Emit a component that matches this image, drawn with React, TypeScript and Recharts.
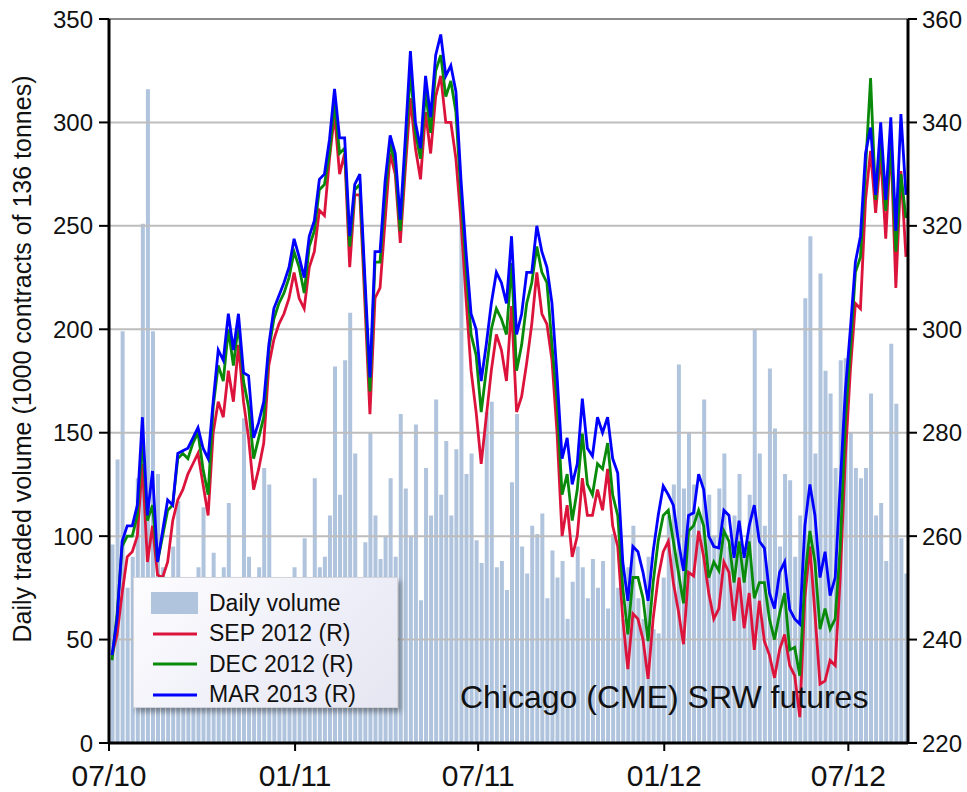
import { Bar, ComposedChart, Legend, Line, ReferenceLine, XAxis, YAxis } from 'recharts'

// sampling grid: days after 1 Jul 2010
const START_DAY = 3
const STEP_DAYS = 5

const volume = [
  96, 137, 199, 75, 90, 128, 251, 316, 199, 130,
  85, 70, 95, 117, 80, 75, 70, 85, 114, 60,
  92, 70, 85, 116, 65, 80, 157, 90, 70, 85,
  133, 125, 75, 65, 80, 70, 85, 60, 99, 75,
  128, 85, 90, 110, 182, 120, 185, 208, 140, 80,
  97, 150, 110, 89, 100, 128, 90, 159, 123, 100,
  154, 69, 133, 110, 166, 120, 146, 110, 142, 260,
  130, 140, 98, 87, 160, 165, 85, 88, 74, 126,
  159, 95, 82, 105, 101, 111, 70, 93, 80, 88,
  60, 78, 95, 85, 70, 89, 75, 88, 65, 101,
  75, 60, 85, 105, 70, 60, 90, 55, 53, 80,
  110, 125, 183, 123, 150, 125, 110, 166, 120, 100,
  123, 140, 95, 110, 130, 90, 120, 200, 140, 105,
  181, 152, 95, 130, 127, 90, 110, 215, 245, 140,
  227, 180, 169, 133, 185, 186, 150, 133, 128, 133,
  169, 110, 116, 88, 193, 164, 99, 82,
]

const sep2012 = [
  237, 241, 249, 256, 257, 260, 274, 255, 262, 252.5,
  252, 255, 263, 267, 269, 272, 274, 276, 270, 264,
  280, 286, 283, 292, 286, 297, 286, 279, 269, 273,
  278, 293, 298, 301, 303, 306, 311, 306, 304, 312,
  315, 323, 322, 333, 341.6, 330, 334, 312, 326, 326,
  305, 283.6, 306, 308, 321, 334, 330, 316.7, 331, 344.7,
  335, 329, 342, 334, 345, 349, 340, 340, 333, 321,
  306, 292, 284, 274, 283, 292, 299, 296, 290, 304.5,
  284, 287, 293.5, 301, 311, 303, 301, 294, 280, 260,
  266, 256, 260, 271.2, 264, 264, 269, 265, 273, 262,
  258, 244, 234.3, 245, 244, 240, 232.4, 244, 252, 257,
  259, 251, 245.5, 239.1, 253, 252.3, 261, 256, 249, 244,
  246, 255, 253, 243.6, 252, 242.2, 249, 238, 247.5, 239.7,
  237, 232.6, 238, 241, 235, 233, 225, 248, 258, 245,
  231.4, 232, 236, 235, 252, 275, 292, 305, 304, 325,
  334.5, 322.5, 333.9, 317.5, 336.4, 308, 330.6, 314,
]

const dec2012 = [
  236, 245, 258, 260, 260, 264, 279, 263, 266, 255,
  260, 265, 266, 275, 276, 275, 278, 280, 273, 268,
  285, 293, 290, 300, 293, 301, 290, 285, 275, 279,
  283, 296, 302, 305, 307, 310, 315, 312, 307, 316,
  319, 327, 328, 334, 344, 334, 335, 316, 327, 328,
  308, 288, 313, 313, 326, 336, 332, 319, 334, 350,
  338, 333, 346, 338, 350, 353, 345, 348, 342, 326,
  312, 299, 295, 284, 292, 300, 304, 302, 299, 312.8,
  292, 297, 305, 309, 316, 311, 309, 297, 286, 268,
  272, 263, 269, 279.8, 270, 268, 274, 273, 278, 268,
  264, 250, 241, 252, 252, 248, 239.7, 251, 259, 264,
  265, 259, 253, 247, 261, 262, 265, 262, 252, 255,
  253.3, 261, 259, 251, 259, 251, 259, 248, 251, 251,
  244, 240, 245, 249, 238, 238.5, 233, 252, 261, 255,
  242, 246, 242, 244, 258, 282, 296, 311, 314, 331,
  348.6, 325, 336.4, 322.9, 336, 315, 330, 321.5,
]

const mar2013 = [
  237, 244, 259, 262, 262, 266, 283, 264, 272.6, 255,
  261, 267, 266, 276, 276.5, 277, 279, 281, 277, 275,
  286, 296, 294, 303, 296, 303, 291.6, 291, 279, 282,
  286, 297, 304, 306.5, 309, 312, 317.5, 314, 310, 318,
  321, 329, 330, 336.7, 346.5, 337, 337, 318, 328, 330,
  310, 290.7, 315, 315, 328.7, 337.5, 334, 321.2, 337, 353.8,
  340, 335, 349, 341, 353, 357, 349, 351, 346, 329,
  315, 303, 300, 290, 297, 305, 311, 309, 305, 318,
  299, 303, 311, 311, 320, 315, 312, 305, 291, 275,
  279, 270, 274, 286.6, 277, 275.5, 283, 280, 283, 275,
  272.2, 255, 247.5, 258, 257, 253, 247.5, 257, 264, 269.7,
  268, 266, 259, 253.3, 264, 264.5, 272, 269, 260, 258,
  257.7, 265, 264, 255.8, 263, 255.8, 262, 266, 259, 257.7,
  249, 246, 253, 255, 245.9, 244, 243, 262, 270, 264,
  252, 257, 248.5, 252, 270, 288, 300, 313, 318, 334,
  339, 326, 340, 325, 341, 319, 341.6, 326,
]

const tickDays = [0, 184, 365, 549, 731]
const tickLabels = ['07/10', '01/11', '07/11', '01/12', '07/12']
const volumeTicks = [0, 50, 100, 150, 200, 250, 300, 350]
const priceTicks = [220, 240, 260, 280, 300, 320, 340, 360]

const data = volume.map((v, i) => ({
  day: START_DAY + i * STEP_DAYS,
  volume: v,
  sep: sep2012[i],
  dec: dec2012[i],
  mar: mar2013[i],
}))

const BAR = '#b0c4de'
const RED = '#dc143c'
const GREEN = '#0a8a0a'
const BLUE = '#0000ff'

const legendItems = [
  { label: 'Daily volume', color: BAR, box: true },
  { label: 'SEP 2012 (R)', color: RED, box: false },
  { label: 'DEC 2012 (R)', color: GREEN, box: false },
  { label: 'MAR 2013 (R)', color: BLUE, box: false },
]

function LegendBox() {
  return (
    <div
      style={{
        width: 265,
        height: 131,
        boxSizing: 'border-box',
        padding: '10px 0 0 17px',
        background: 'linear-gradient(135deg, #fdfdff 0%, #eeeef8 60%, #e6e6f2 100%)',
        border: '1px solid #d4d4dc',
        boxShadow: '3px 4px 5px rgba(0,0,0,0.35)',
      }}
    >
      {legendItems.map((it) => (
        <div key={it.label} style={{ display: 'flex', alignItems: 'center', height: 30.5 }}>
          <svg width={47} height={24} style={{ marginRight: 11 }}>
            {it.box ? (
              <rect x={0} y={1} width={47} height={22} fill={it.color} />
            ) : (
              <line x1={2} y1={12} x2={46} y2={12} stroke={it.color} strokeWidth={3} />
            )}
          </svg>
          <span style={{ fontSize: 23, color: '#111', lineHeight: 1 }}>{it.label}</span>
        </div>
      ))}
    </div>
  )
}

const renderVolumeLabel = () => (
  <text
    x={22}
    y={359}
    transform="rotate(-90 22 359)"
    textAnchor="middle"
    dominantBaseline="central"
    fontSize={25}
    fill="#111"
  >
    Daily traded volume (1000 contracts of 136 tonnes)
  </text>
)

export default function App() {
  return (
    <div
      style={{
        position: 'relative',
        width: 967,
        height: 792,
        fontFamily: '"Liberation Sans", Arial, sans-serif',
      }}
    >
      <style>{'body{margin:0}'}</style>
      <ComposedChart width={967} height={792} data={data} margin={{ top: 19, right: 0, bottom: 0, left: 0 }}>
        <XAxis
          dataKey="day"
          type="number"
          domain={[0, 790]}
          ticks={tickDays}
          tickFormatter={(d: number) => tickLabels[tickDays.indexOf(d)]}
          height={49}
          tick={{ fontSize: 30, fill: '#111' }}
          tickSize={8}
          tickMargin={14}
          axisLine={{ stroke: '#000', strokeWidth: 3 }}
          tickLine={{ stroke: '#000', strokeWidth: 2 }}
        />
        <YAxis
          yAxisId="vol"
          orientation="left"
          width={109}
          domain={[0, 350]}
          ticks={volumeTicks}
          interval={0}
          tick={{ fontSize: 24, fill: '#111' }}
          tickSize={10}
          tickMargin={6}
          axisLine={{ stroke: '#000', strokeWidth: 3 }}
          tickLine={{ stroke: '#000', strokeWidth: 2 }}
          label={renderVolumeLabel}
        />
        <YAxis
          yAxisId="price"
          orientation="right"
          width={59}
          domain={[220, 360]}
          ticks={priceTicks}
          interval={0}
          tick={{ fontSize: 24, fill: '#111' }}
          tickSize={9}
          tickMargin={5}
          axisLine={{ stroke: '#000', strokeWidth: 3 }}
          tickLine={{ stroke: '#000', strokeWidth: 2 }}
        />
        <Bar yAxisId="vol" dataKey="volume" fill={BAR} barSize={4} isAnimationActive={false} />
        {volumeTicks.slice(1).map((t) => (
          <ReferenceLine
            key={t}
            yAxisId="vol"
            y={t}
            stroke={t === 350 ? '#8c8c8c' : '#bdbdbd'}
            strokeWidth={2}
          />
        ))}
        <Line yAxisId="price" dataKey="sep" stroke={RED} strokeWidth={2.8} dot={false} isAnimationActive={false} />
        <Line yAxisId="price" dataKey="dec" stroke={GREEN} strokeWidth={2.8} dot={false} isAnimationActive={false} />
        <Line yAxisId="price" dataKey="mar" stroke={BLUE} strokeWidth={2.8} dot={false} isAnimationActive={false} />
        <Legend
          layout="vertical"
          align="center"
          verticalAlign="middle"
          wrapperStyle={{ left: 133, top: 577, width: 265, height: 131 }}
          content={() => <LegendBox />}
        />
      </ComposedChart>
      <div
        style={{
          position: 'absolute',
          left: 460,
          top: 681,
          fontSize: 32,
          lineHeight: '32px',
          color: '#111',
          whiteSpace: 'nowrap',
          pointerEvents: 'none',
        }}
      >
        Chicago (CME) SRW futures
      </div>
    </div>
  )
}
